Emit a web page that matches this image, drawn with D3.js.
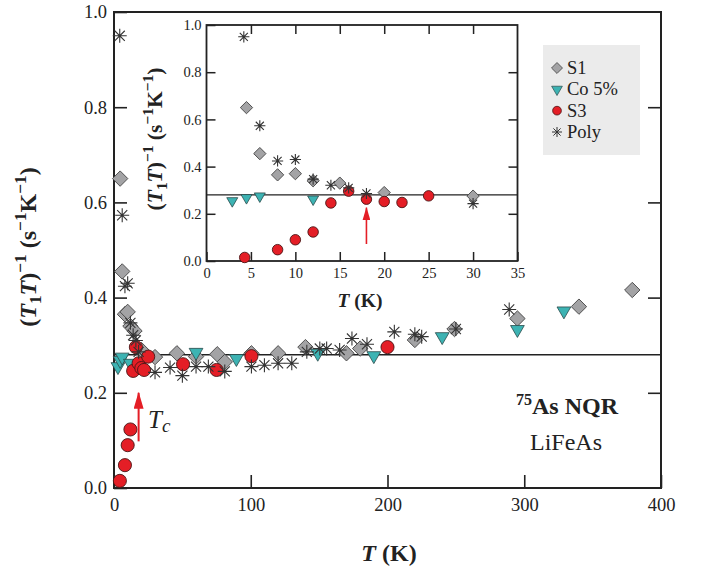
<!DOCTYPE html>
<html><head><meta charset="utf-8">
<script src="https://cdn.jsdelivr.net/npm/d3@7"></script>
<style>body{margin:0;background:#fff}svg{display:block}text{font-family:"Liberation Serif","DejaVu Serif",serif;fill:#222}</style>
</head><body><svg id="c" width="704" height="569"></svg>
<script>
// ---- data ----
const s1T = [4.5,6,8,10,12,15,20,30,46,60,75.5,81,100.5,120,140,170,180,220,249,295,340,379];
const s1V = [0.65,0.455,0.365,0.37,0.34,0.33,0.29,0.275,0.283,0.276,0.281,0.265,0.283,0.283,0.296,0.283,0.293,0.311,0.334,0.356,0.381,0.416];
const coT = [2.9,4.5,6,12,60,89.5,149,190,240,295,329];
const coV = [0.255,0.268,0.275,0.262,0.285,0.272,0.283,0.278,0.318,0.333,0.372];
const s3T = [4.3,8,10,12,14,16,18,20,22,25,50.5,75,100.5,200];
const s3V = [0.015,0.048,0.09,0.123,0.246,0.296,0.262,0.252,0.248,0.276,0.26,0.248,0.277,0.296];
const polyT = [4.2,6,8,10,12,14,16,18,30,41,50,60,69,81,100.5,110,120,130,141,150.5,155.5,165,174,185,205,220,225,250,289];
const polyV = [0.95,0.573,0.424,0.43,0.347,0.321,0.31,0.286,0.243,0.253,0.236,0.255,0.255,0.245,0.255,0.258,0.262,0.262,0.286,0.293,0.293,0.29,0.314,0.302,0.328,0.323,0.318,0.334,0.375];
const refLevel = 0.28;
const TcMain = 18;
const mainXTicks = [0,100,200,300,400];
const mainYTicks = [0,0.2,0.4,0.6,0.8,1.0];
const insetXTicks = [0,5,10,15,20,25,30,35];
const insetYTicks = [0,0.2,0.4,0.6,0.8,1.0];
const legendNames = ["S1","Co 5%","S3","Poly"];

const series = [
  {name:"S1", T:s1T, V:s1V, kind:"diamond"},
  {name:"Co 5%", T:coT, V:coV, kind:"tri"},
  {name:"S3", T:s3T, V:s3V, kind:"circle"},
  {name:"Poly", T:polyT, V:polyV, kind:"star"}
];

const svg = d3.select("#c");
const colors = {diamond:{fill:"#a3a3a5",stroke:"#4a4a4a"}, tri:{fill:"#3db3b3",stroke:"#2a4a4a"}, circle:{fill:"#e41e26",stroke:"#4a1515"}, star:{fill:"none",stroke:"#333"}};

function drawMarks(g, x, y, scale, filterFn){
  series.forEach(s=>{
    const pts = s.T.map((t,i)=>({t, v:s.V[i]})).filter(filterFn);
    const c = colors[s.kind];
    const sel = g.selectAll(null).data(pts).enter().append("path")
      .attr("fill", c.fill).attr("stroke", c.stroke);
    if(s.kind==="diamond"){
      sel.attr("d", d3.symbol(d3.symbolSquare, 118*scale*scale)())
         .attr("transform", d=>`translate(${x(d.t)},${y(d.v)}) rotate(45)`).attr("stroke-width",0.9);
    } else if(s.kind==="tri"){
      sel.attr("d", d3.symbol(d3.symbolTriangle, 82*scale*scale)())
         .attr("transform", d=>`translate(${x(d.t)},${y(d.v)}) rotate(180)`).attr("stroke-width",0.8);
    } else if(s.kind==="circle"){
      sel.attr("d", d3.symbol(d3.symbolCircle, 135*scale*scale)())
         .attr("transform", d=>`translate(${x(d.t)},${y(d.v)})`).attr("stroke-width",0.9);
    } else {
      const r = 7*scale, q = r*0.72;
      const p = `M${-r},0L${r},0M0,${-r}L0,${r}M${-q},${-q}L${q},${q}M${-q},${q}L${q},${-q}`;
      sel.attr("d", p).attr("transform", d=>`translate(${x(d.t)},${y(d.v)})`).attr("stroke-width",1.1);
    }
  });
}

svg.append("defs").html(`<marker id="ah" viewBox="0 0 17 10" refX="16" refY="5" markerWidth="17" markerHeight="10" markerUnits="userSpaceOnUse" orient="auto"><path d="M0,0L17,5L0,10Z" fill="#e41e26"/></marker>
<marker id="ah2" viewBox="0 0 17 10" refX="16" refY="5" markerWidth="13" markerHeight="8" markerUnits="userSpaceOnUse" orient="auto"><path d="M0,0L17,5L0,10Z" fill="#e41e26"/></marker>`);

// ---- main plot ----
const L=114, R=661, T0=12, B=488;
const x = d3.scaleLinear().domain([0,400]).range([L,R]);
const y = d3.scaleLinear().domain([0,1]).range([B,T0]);
const gm = svg.append("g");
function styleMain(g){g.select(".domain").remove(); g.selectAll("text").attr("font-size",18.5).attr("font-family","Liberation Serif").attr("fill","#222");g.selectAll("line").attr("stroke","#222").attr("stroke-width",1.6);}

gm.append("g").attr("transform",`translate(0,${B})`)
  .call(d3.axisBottom(x).tickValues(mainXTicks).tickSize(-13).tickPadding(10).tickFormat(d3.format("d"))).call(styleMain);
gm.append("g").attr("transform",`translate(${L},0)`)
  .call(d3.axisLeft(y).tickValues(mainYTicks).tickSize(-13).tickPadding(7).tickFormat(d3.format(".1f"))).call(styleMain);
gm.append("g").attr("transform",`translate(${R},0)`)
  .call(d3.axisRight(y).tickValues(mainYTicks.slice(1,5)).tickSize(-13).tickFormat("")).call(styleMain);
gm.append("rect").attr("x",L).attr("y",T0).attr("width",R-L).attr("height",B-T0)
  .attr("fill","none").attr("stroke","#222").attr("stroke-width",2);

gm.append("line").attr("x1",x(0)).attr("x2",x(400)).attr("y1",y(refLevel)).attr("y2",y(refLevel))
  .attr("stroke","#222").attr("stroke-width",1.4);

drawMarks(gm.append("g"), x, y, 1, d=>true);

// Tc arrow
gm.append("line").attr("x1",x(TcMain)).attr("x2",x(TcMain)).attr("y1",y(0.098)).attr("y2",y(0.2))
  .attr("stroke","#e41e26").attr("stroke-width",2).attr("marker-end","url(#ah)");
const tc = gm.append("text").attr("x",148).attr("y",428).attr("font-size",25).attr("font-style","italic");
tc.append("tspan").text("T");
tc.append("tspan").attr("dy",4).attr("font-size",19).text("c");

// annotation
const a1 = gm.append("text").attr("x",567).attr("y",414).attr("text-anchor","middle").attr("font-size",24).attr("font-weight","bold");
a1.append("tspan").attr("font-size",16).attr("dy",-9).text("75");
a1.append("tspan").attr("dy",9).text("As NQR");
gm.append("text").attr("x",566).attr("y",450).attr("text-anchor","middle").attr("font-size",24).text("LiFeAs");

// axis labels
function ylabel(g, cx, cy, fs){
  const t = g.append("text").attr("transform",`translate(${cx},${cy}) rotate(-90)`).attr("text-anchor","middle")
    .attr("font-size",fs).attr("font-weight","bold");
  const sub = fs*0.72;
  t.append("tspan").text("(");
  t.append("tspan").attr("font-style","italic").text("T");
  t.append("tspan").attr("font-size",sub).attr("dy",fs*0.22).text("1");
  t.append("tspan").attr("font-style","italic").attr("dy",-fs*0.22).text("T");
  t.append("tspan").text(")");
  t.append("tspan").attr("font-size",sub).attr("dy",-fs*0.4).text("\u22121");
  t.append("tspan").attr("dy",fs*0.4).text(" (s");
  t.append("tspan").attr("font-size",sub).attr("dy",-fs*0.4).text("\u22121");
  t.append("tspan").attr("dy",fs*0.4).text("K");
  t.append("tspan").attr("font-size",sub).attr("dy",-fs*0.4).text("\u22121");
  t.append("tspan").attr("dy",fs*0.4).text(")");
}
function xlabel(g, cx, cy, fs){
  const t = g.append("text").attr("x",cx).attr("y",cy).attr("text-anchor","middle").attr("font-size",fs).attr("font-weight","bold");
  t.append("tspan").attr("font-style","italic").text("T");
  t.append("tspan").text(" (K)");
}
ylabel(gm, 36, 247, 24);
xlabel(gm, 389, 561, 24);

// ---- inset ----
const iL=206.5, iR=517.5, iT=25, iB=261;
const xi = d3.scaleLinear().domain([0,35]).range([iL,iR]);
const yi = d3.scaleLinear().domain([0,1]).range([iB,iT]);
const gi = svg.append("g");
gi.append("rect").attr("x",iL).attr("y",iT).attr("width",iR-iL).attr("height",iB-iT).attr("fill","#fff");
function styleTicks(g){g.select(".domain").remove(); g.selectAll("text").attr("font-size",14.5).attr("font-family","Liberation Serif").attr("fill","#222");g.selectAll("line").attr("stroke","#222").attr("stroke-width",1.5);}
gi.append("g").attr("transform",`translate(0,${iB})`)
  .call(d3.axisBottom(xi).tickValues(insetXTicks).tickSize(-9).tickPadding(7).tickFormat(d3.format("d"))).call(styleTicks);
gi.append("g").attr("transform",`translate(0,${iT})`)
  .call(d3.axisTop(xi).tickValues(insetXTicks.slice(1,7)).tickSize(-9).tickFormat("")).call(styleTicks);
gi.append("g").attr("transform",`translate(${iL},0)`)
  .call(d3.axisLeft(yi).tickValues(insetYTicks).tickSize(-9).tickPadding(5).tickFormat(d3.format(".1f"))).call(styleTicks);
gi.append("g").attr("transform",`translate(${iR},0)`)
  .call(d3.axisRight(yi).tickValues(insetYTicks.slice(1,5)).tickSize(-9).tickFormat("")).call(styleTicks);
gi.append("rect").attr("x",iL).attr("y",iT).attr("width",iR-iL).attr("height",iB-iT)
  .attr("fill","none").attr("stroke","#222").attr("stroke-width",1.8);
gi.append("line").attr("x1",xi(0)).attr("x2",xi(35)).attr("y1",yi(refLevel)).attr("y2",yi(refLevel))
  .attr("stroke","#222").attr("stroke-width",1.3);
drawMarks(gi.append("g"), xi, yi, 0.8, d=>d.t<=35);
gi.append("line").attr("x1",xi(TcMain)).attr("x2",xi(TcMain)).attr("y1",yi(0.072)).attr("y2",yi(0.226))
  .attr("stroke","#e41e26").attr("stroke-width",1.6).attr("marker-end","url(#ah2)");
ylabel(gi, 162, 139, 21.5);
xlabel(gi, 360, 307, 19.5);

// ---- legend ----
const lg = svg.append("g");
lg.append("rect").attr("x",543).attr("y",45).attr("width",97).attr("height",110).attr("fill","#ebebeb");
const ly = d3.scalePoint().domain(legendNames).range([68,132]);
series.forEach((s)=>{
  const c = colors[s.kind];
  const cy = ly(s.name), cx = 557;
  const p = lg.append("path").attr("fill",c.fill).attr("stroke",c.stroke);
  if(s.kind==="diamond") p.attr("d",d3.symbol(d3.symbolSquare,60)()).attr("transform",`translate(${cx},${cy}) rotate(45)`).attr("stroke-width",0.8);
  else if(s.kind==="tri") p.attr("d",d3.symbol(d3.symbolTriangle,50)()).attr("transform",`translate(${cx},${cy}) rotate(180)`).attr("stroke-width",0.7);
  else if(s.kind==="circle") p.attr("d",d3.symbol(d3.symbolCircle,60)()).attr("transform",`translate(${cx},${cy})`).attr("stroke-width",0.8);
  else { const r=5,q=3.6; p.attr("d",`M${-r},0L${r},0M0,${-r}L0,${r}M${-q},${-q}L${q},${q}M${-q},${q}L${q},${-q}`).attr("transform",`translate(${cx},${cy})`).attr("stroke-width",1);}
  lg.append("text").attr("x",567).attr("y",cy+6).attr("font-size",18.5).text(s.name);
});
</script></body></html>
